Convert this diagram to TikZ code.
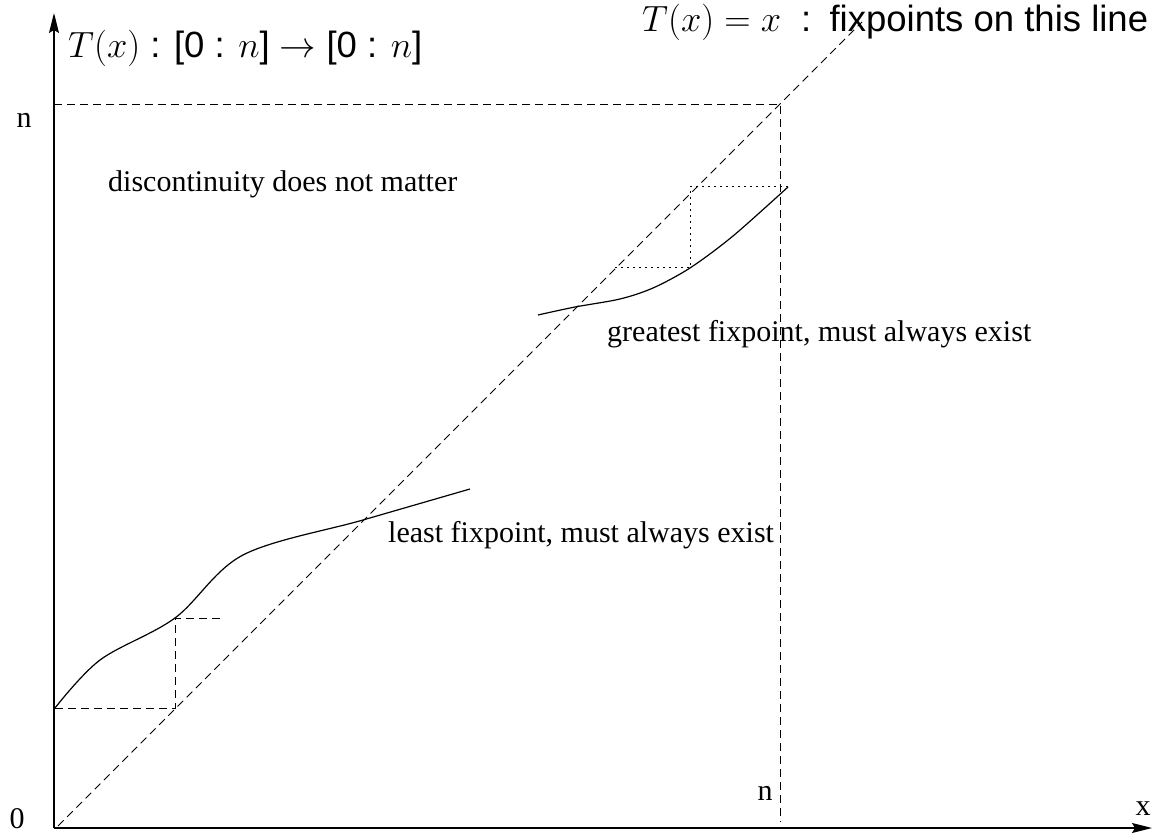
\RequirePackage{fix-cm}
\documentclass[tikz,border=0pt]{standalone}
\usepackage{fontspec}
\setmainfont{Liberation Serif}
\setsansfont{Liberation Sans}
\usetikzlibrary{arrows.meta}
\begin{document}
\begin{tikzpicture}[x=1pt,y=-1pt,
  lbl/.style={inner sep=0pt, anchor=base west, font=\fontsize{30}{36}\selectfont},
  slbl/.style={inner sep=0pt, anchor=base west, font=\fontsize{36.5}{44}\selectfont\sffamily},
  axis/.style={line width=1.3pt, -{Stealth[length=20pt,width=10pt,inset=3pt]}},
  guide/.style={line width=0.9pt, dash pattern=on 8pt off 5pt},
  dots/.style={line width=1pt, dash pattern=on 1.5pt off 4.5pt},
  curve/.style={line width=1.2pt}]
\useasboundingbox (0,0) rectangle (1165,834);
% key points
\coordinate (O) at (54,828);
\coordinate (ytip) at (54,13);
\coordinate (xtip) at (1152,828);
\coordinate (dstart) at (58,826);
\coordinate (dend) at (862,22);
\coordinate (nn) at (780,104);
\coordinate (ny) at (54,104);
\coordinate (nx) at (780,822);
% axes
\draw[axis] (O) -- (ytip);
\draw[axis] (O) -- (xtip);
% guides
\draw[guide] (dstart) -- (dend);
\draw[guide] (ny) -- (nn) -- (nx);
% least fixpoint curve and iteration
\coordinate (l0) at (55,708);
\coordinate (l1) at (175,618);
\coordinate (l1d) at (175,708);
\coordinate (l2) at (222,618);
\draw[curve] plot[smooth, tension=0.55] coordinates {(55,708) (100,660) (175,618) (243,555) (363,520) (470,489)};
\draw[guide] (l0) -- (l1d) -- (l1) -- (l2);
% greatest fixpoint curve and iteration
\coordinate (g0) at (615,268);
\coordinate (g1) at (690,268);
\coordinate (g2) at (690,187);
\coordinate (g3) at (788,187);
\draw[curve] plot[smooth, tension=0.5] coordinates {(538,315) (575,307) (620,299) (653,288) (690,268) (733,236) (788,187)};
\draw[dots] (g0) -- (g1) -- (g2) -- (g3);
% labels
\node[slbl] (tl) at (68,58) {$T(x)$ : [0 : $n$] $\rightarrow$ [0 : $n$]};
\node[slbl] (tr) at (642,32) {$T(x) = x$\hspace{0.55em}:\hspace{0.5em}fixpoints on this line};
\node[lbl] (disc) at (108,192) {discontinuity does not matter};
\node[lbl] (gfp) at (607,342) {greatest fixpoint, must always exist};
\node[lbl] (lfp) at (388,542) {least fixpoint, must always exist};
\node[lbl, anchor=base] (ylab) at (24,128) {n};
\node[lbl, anchor=base] (zero) at (17,828) {0};
\node[lbl, anchor=base] (xn) at (765,800) {n};
\node[lbl, anchor=base] (xlab) at (1143,815) {x};
\end{tikzpicture}
\end{document}
